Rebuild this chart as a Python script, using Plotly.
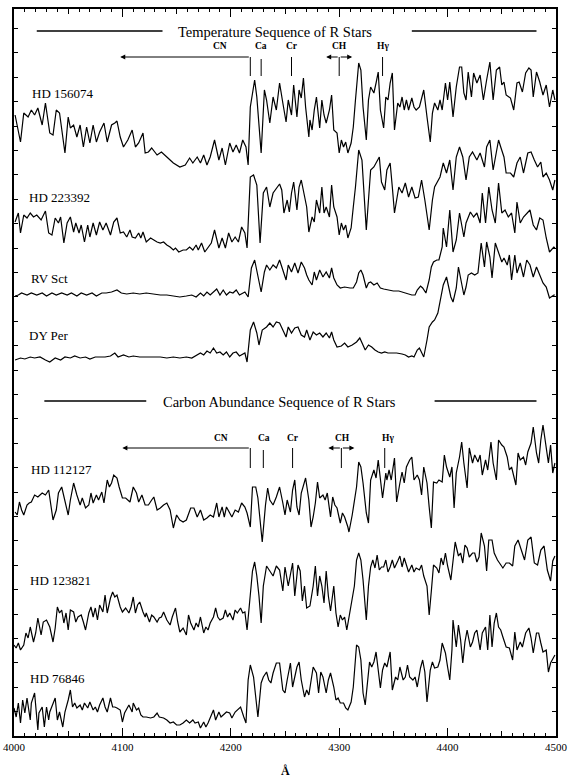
import plotly.graph_objects as go

# ---------------- data (wavelength in Angstrom, relative flux, arbitrary units with vertical offsets) -----
wl_156074 = [4001,4006,4009,4013,4016,4019,4022,4026,4029,4033,4036,4039,4042,4047,4050,4052,4055,4058,4061,4064,
             4067,4070,4073,4076,4079,4083,4086,4090,4093,4095,4098,4101,4105,4109,4112,4115,4119,4121,4124,4127,
             4132,4136,4141,4144,4147,4153,4158,4162,4165,4169,4172,4175,4178,4181,4185,4189,4192,4195,4199,4202,
             4205,4208,4211,4214,4216,4218,4222,4224,4228,4231,4233,4236,4239,4242,
             4245,4248,4251,4253,4256,4258,4261,4263,4265,4267,4269,4272,4273,4275,4277,4279,4282,4284,4286,4288,
             4291,4293,4295,4298,4300,4302,4304,4306,4308,4311,4313,4315,4318,4320,4322,4325,4327,4329,4332,4334,
             4336,4338,4341,4343,4345,4347,4349,4351,4354,4356,4358,4360,4362,4364,4367,4369,4371,4374,4378,4381,
             4384,4386,4388,4391,4393,4395,4398,4400,4402,4405,4408,4411,4413,4415,4417,4419,4422,4424,4427,4430,
             4433,4436,4439,4442,4445,4448,4450,4452,4454,4458,4461,4464,4466,4469,4472,4475,4477,4479,4482,4485,
             4488,4491,4494,4497,4499]
fx_156074 = [621,594,623,619,626,621,628,611,633,603,601,626,623,583,619,608,611,599,611,589,
             609,593,611,594,604,613,594,611,613,615,599,589,596,606,589,593,603,583,584,588,
             581,584,579,576,573,569,571,578,573,579,573,581,571,579,596,576,588,571,593,584,
             591,583,596,589,571,629,656,639,583,646,636,613,639,626,
             653,633,614,636,621,651,619,646,638,658,629,599,616,606,626,639,608,636,621,613,
             626,641,606,603,583,596,589,594,583,593,609,636,673,666,629,596,636,649,643,653,
             664,626,608,639,636,653,663,606,633,629,639,626,636,626,638,629,626,629,646,619,
             594,623,633,626,636,626,653,636,654,619,649,669,669,643,636,664,639,663,653,661,
             636,656,674,636,666,669,651,654,641,638,626,653,654,644,663,668,666,639,664,654,
             641,651,629,646,636]

wl_223392 = [4001,4004,4006,4009,4012,4015,4018,4021,4025,4029,4032,4035,4038,4041,4043,4046,4049,4052,4055,4057,
             4060,4062,4065,4068,4070,4073,4076,4079,4082,4085,4089,4092,4095,4098,4101,4104,4107,4109,4112,4115,
             4117,4119,4122,4126,4129,4132,4135,4138,4141,4144,4147,4149,4152,4156,4159,4162,4165,4168,4170,4173,
             4176,4179,4182,4185,4189,4192,4195,4198,4201,4204,4207,4210,4213,4215,4218,4221,4224,4227,4230,4233,
             4236,4239,4242,4245,4247,4249,4252,4254,4256,4258,4261,4263,4265,4268,4270,4272,4275,4277,4279,4282,
             4284,4286,4288,4291,4293,4295,4298,4300,4302,4304,4306,4308,4311,4313,4315,4318,4321,4325,4327,4329,
             4332,4335,4337,4339,4342,4344,4347,4349,4351,4355,4358,4361,4364,4367,4370,4373,4376,4379,4383,4386,
             4388,4393,4396,4399,4402,4405,4408,4411,4414,4417,4420,4423,4427,4430,4434,4436,4439,4442,4447,4449,
             4452,4454,4458,4461,4464,4467,4470,4474,4477,4480,4483,4486,4488,4491,4494,4497,4499]
fx_223392 = [514,523,503,521,518,523,519,521,516,525,503,501,518,513,519,493,513,519,504,513,
             503,511,494,511,499,513,501,514,506,513,501,514,518,503,504,499,506,499,498,503,
             498,504,494,498,496,494,493,494,491,489,486,488,484,486,486,489,486,491,486,493,
             484,488,493,506,488,498,488,503,494,499,494,509,503,488,559,561,551,493,543,549,
             529,543,548,552,546,523,536,524,543,554,526,549,556,539,529,504,519,514,536,523,
             549,523,529,519,551,529,519,501,513,506,511,498,508,529,549,586,576,506,536,566,
             569,576,579,554,546,566,573,549,523,549,543,553,539,549,538,539,556,536,506,536,
             549,559,573,563,576,546,579,589,579,556,579,584,576,583,569,589,596,566,596,589,
             579,563,563,559,573,579,563,583,584,576,569,574,559,563,556,546,556]

wl_rvsct = [4001,4004,4007,4012,4016,4021,4026,4030,4035,4039,4044,4049,4053,4058,4062,4067,4072,4076,4081,4085,
            4090,4095,4099,4104,4110,4116,4122,4129,4135,4141,4147,4153,4159,4164,4168,4172,4175,4178,4181,4184,
            4187,4190,4193,4196,4199,4202,4205,4208,4213,4216,4219,4222,4225,4228,4231,4233,4236,4239,4242,
            4245,4248,4251,4253,4256,4259,4262,4265,4268,4270,4272,4275,4277,4279,4282,4285,4288,4291,4293,4295,
            4298,4301,4305,4310,4313,4316,4318,4320,4322,4325,4327,4329,4332,4335,4338,4341,4345,4350,4355,4358,
            4361,4364,4367,4370,4372,4375,4377,4380,4383,4385,4387,4390,4392,4395,4396,4399,4402,4405,4408,4411,
            4415,4417,4421,4424,4427,4430,4432,4435,4438,4441,4444,4447,4450,4453,4456,4459,4462,4464,4467,4470,
            4473,4476,4479,4482,4485,4488,4491,4494,4498,4499]
fx_rvsct = [440,441,443,441,443,441,443,440,443,441,443,441,443,440,443,441,443,440,443,443,
            444,446,443,442,443,442,443,442,441,441,440,439,440,441,439,443,440,444,441,444,
            447,441,446,441,444,443,446,441,444,439,468,476,459,444,464,471,466,471,468,
            476,466,456,471,464,473,463,474,468,461,456,451,464,456,466,459,464,458,468,458,
            451,448,449,448,448,454,463,466,461,448,453,454,451,453,448,447,446,445,445,444,
            443,442,441,441,446,450,448,443,456,469,474,476,476,489,508,489,526,484,496,523,
            499,513,524,519,523,513,543,513,549,526,513,553,523,526,519,523,503,534,513,519,
            523,526,511,506,518,516,498,484,489,488]

wl_dyper = [4001,4006,4010,4015,4019,4024,4029,4033,4038,4043,4047,4052,4056,4061,4066,4070,4075,4079,4084,4089,
            4093,4096,4101,4106,4110,4116,4122,4129,4135,4141,4147,4153,4159,4164,4169,4172,4175,4178,4181,4184,
            4187,4190,4193,4196,4199,4202,4205,4208,4213,4215,4218,4221,4224,4226,4229,4233,4236,4239,4242,
            4245,4248,4251,4253,4256,4259,4262,4265,4268,4270,4273,4276,4279,4282,4285,4288,4291,4293,4295,4298,
            4302,4305,4308,4312,4316,4319,4321,4324,4327,4330,4333,4336,4339,4342,4345,4348,4353,4358,4361,4364,
            4367,4369,4372,4374,4376,4378,4381,4383,4386,4388,4391,4393,4396,4399,4401,4403,4405,4408,4410,4412,
            4415,4417,4419,4422,4425,4428,4431,4434,4436,4439,4441,4444,4447,4450,4452,4455,4457,4459,4462,4464,
            4467,4470,4473,4476,4479,4482,4485,4488,4491,4494,4498,4499]
fx_dyper = [376,378,377,379,378,379,376,374,378,376,379,378,380,378,379,377,379,379,379,380,
            383,379,381,379,380,379,379,379,379,378,379,378,379,378,381,383,381,385,383,388,
            383,384,381,384,379,383,384,380,383,374,406,414,403,391,406,409,413,409,414,
            413,406,399,409,403,408,409,401,399,406,396,404,401,403,399,403,398,404,396,389,
            390,393,389,391,394,398,393,386,391,389,386,384,383,384,383,383,383,382,381,379,
            380,379,386,388,384,379,396,409,414,416,423,436,451,459,449,439,434,448,469,459,
            441,449,461,463,461,463,493,469,494,479,458,493,484,474,478,471,481,456,481,463,
            473,459,476,471,459,469,461,453,449,438,441,441]

wl_112127 = [4001,4003,4005,4007,4009,4012,4014,4016,4019,4022,4026,4029,4032,4034,4036,4039,4041,4044,4047,4050,
             4052,4055,4058,4061,4063,4066,4069,4071,4073,4076,4078,4081,4083,4086,4088,4090,4092,4095,4097,4100,
             4103,4107,4110,4113,4115,4118,4121,4124,4127,4129,4132,4135,4138,4141,4144,4147,4150,4153,4156,4159,
             4163,4166,4169,4172,4175,4178,4181,4184,4187,4189,4192,4194,4196,4199,4201,4204,4207,4210,4213,4215,
             4218,4220,4223,4225,4227,4229,4232,4234,4236,4239,4242,
             4245,4248,4250,4252,4255,4257,4259,4261,4263,4265,4268,4269,4272,4274,4276,4278,4280,4282,4285,4287,
             4289,4292,4294,4296,4298,4301,4303,4305,4308,4309,4312,4314,4316,4318,4320,4322,4325,4327,4329,4332,
             4334,4336,4338,4340,4343,4344,4346,4348,4351,4353,4356,4358,4360,4362,4365,4367,4369,4372,4374,4376,
             4378,4381,4383,4385,4387,4390,4392,4395,4397,4399,4402,4404,4406,4408,4411,4413,4415,4418,4420,4423,
             4425,4428,4430,4432,4435,4437,4440,4442,4445,4447,4450,4452,4455,4457,4459,4461,4463,4465,4467,4470,
             4472,4474,4477,4479,4482,4484,4486,4488,4491,4493,4495,4497,4499]
fx_112127 = [224,221,234,226,221,231,233,234,241,239,243,241,246,231,216,226,243,249,236,221,
             236,253,241,231,238,228,231,243,233,241,236,244,233,256,249,253,261,258,249,238,
             238,234,249,243,234,241,231,231,236,239,226,228,231,233,226,208,221,216,214,216,
             228,228,219,226,216,218,221,219,233,219,229,219,229,223,219,226,224,233,229,223,
             209,249,249,238,216,194,231,248,236,231,239,
             249,233,221,236,224,246,256,229,221,243,256,258,236,209,219,233,254,238,241,236,
             243,219,239,231,228,213,223,219,209,204,221,233,249,274,269,253,223,213,256,266,
             258,276,256,238,263,256,266,256,278,234,253,264,253,269,276,279,256,261,256,241,
             269,253,229,208,254,253,256,254,281,269,259,269,228,263,279,294,273,248,288,273,
             281,274,281,261,276,266,294,273,256,296,291,289,279,266,269,259,251,283,276,279,
             271,284,293,309,283,273,296,311,286,273,291,263,273]

wl_123821 = [4000,4002,4004,4006,4009,4011,4013,4015,4018,4020,4022,4025,4027,4030,4033,4036,4038,4040,4042,4044,
             4046,4048,4050,4052,4055,4057,4059,4062,4064,4066,4069,4071,4073,4075,4077,4079,4082,4084,4086,4089,
             4091,4093,4095,4098,4100,4103,4106,4108,4110,4112,4114,4116,4119,4121,4122,4125,4127,4129,4132,4134,
             4136,4138,4141,4144,4146,4149,4151,4153,4156,4159,4161,4163,4166,4168,4170,4172,4175,4177,4179,4181,
             4184,4186,4188,4190,4193,4195,4197,4199,4202,4204,4206,4209,4211,4213,4215,4218,4220,4222,4224,4226,
             4228,4230,4233,4236,4239,4242,
             4245,4248,4250,4253,4255,4257,4259,4262,4264,4266,4268,4270,4273,4276,4278,4280,4282,4284,4286,4288,
             4290,4292,4295,4297,4299,4301,4303,4305,4307,4309,4312,4314,4316,4318,4320,4322,4325,4327,4329,4331,
             4333,4335,4337,4339,4341,4343,4345,4347,4349,4351,4354,4356,4358,4360,4362,4364,4367,4369,4371,4374,
             4376,4378,4381,4383,4385,4387,4390,4392,4394,4396,4398,4400,4403,4405,4407,4410,4412,4414,4416,4418,
             4420,4423,4425,4427,4429,4431,4434,4436,4438,4441,4443,4446,4448,4451,4454,4457,4460,4462,4465,4468,
             4471,4474,4477,4480,4483,4486,4489,4492,4495,4497,4499]
fx_123821 = [91,88,93,86,91,103,98,109,94,103,118,101,114,116,109,94,108,129,123,126,
             113,123,106,126,124,114,119,121,114,106,123,129,119,128,116,131,124,141,123,138,
             144,139,141,129,124,128,123,129,139,123,131,134,124,119,123,114,121,119,114,118,
             119,124,116,111,119,128,114,104,108,101,121,113,106,113,109,119,103,109,106,113,
             119,128,119,116,118,126,119,123,116,126,123,128,123,124,106,143,165,174,160,140,
             113,150,170,165,160,170,
             166,145,169,150,163,173,140,171,165,135,150,128,130,150,170,140,160,150,133,165,
             140,125,150,123,109,121,116,119,106,119,135,150,176,183,176,156,116,150,169,176,
             168,181,166,169,169,176,164,169,176,168,175,180,169,178,171,164,171,164,168,166,
             171,160,150,121,145,171,168,163,178,171,183,170,156,174,194,180,183,173,191,188,
             179,183,183,174,179,203,190,165,196,196,183,176,173,168,173,173,170,190,196,186,
             176,196,199,173,171,186,190,166,155,175,180]

wl_76846 = [4000,4002,4004,4006,4008,4010,4012,4015,4016,4019,4022,4023,4026,4028,4030,4032,4033,4036,4038,4040,
            4042,4045,4047,4050,4052,4054,4056,4058,4061,4063,4065,4068,4070,4073,4075,4077,4079,4082,4084,4086,
            4089,4091,4093,4095,4098,4100,4102,4105,4106,4109,4110,4113,4115,4117,4119,4122,4126,4129,4132,4134,
            4138,4141,4144,4147,4150,4153,4156,4159,4162,4165,4167,4170,4172,4175,4177,4179,4181,4184,4186,4189,
            4191,4193,4196,4199,4201,4204,4206,4209,4212,4214,4216,4218,4221,4223,4225,4228,4230,4233,4235,4237,
            4239,4242,
            4245,4248,4250,4252,4255,4257,4259,4261,4263,4265,4268,4270,4272,4275,4276,4279,4281,4283,4285,4288,
            4290,4292,4295,4297,4299,4301,4304,4306,4308,4311,4313,4316,4318,4320,4322,4324,4326,4328,4330,4332,
            4334,4336,4338,4340,4342,4344,4347,4349,4352,4354,4356,4359,4361,4363,4365,4368,4370,4372,4375,4377,
            4379,4381,4384,4386,4388,4391,4393,4395,4398,4400,4402,4404,4405,4408,4410,4412,4414,4416,4418,4421,
            4423,4425,4427,4430,4432,4435,4437,4439,4441,4443,4445,4447,4449,4451,4454,4457,4460,4462,4464,4467,
            4469,4472,4475,4477,4479,4482,4484,4486,4488,4491,4493,4495,4498,4499]
fx_76846 = [28,19,33,13,36,23,38,16,33,43,6,23,29,9,29,16,24,33,38,16,
            24,9,24,36,46,29,33,28,31,26,33,28,34,26,29,24,31,38,29,24,
            38,29,29,28,26,14,23,29,31,24,33,26,28,21,19,19,18,19,23,19,
            18,16,13,14,11,11,13,16,13,16,13,14,8,14,9,13,19,26,16,24,
            19,21,24,23,18,24,26,29,19,13,56,71,59,36,19,53,59,64,56,53,
            63,73,
            73,46,43,56,73,49,59,69,74,56,39,46,41,59,69,63,43,64,59,43,
            56,63,49,36,38,33,33,28,26,34,49,91,89,76,43,31,53,74,69,74,
            84,66,48,66,73,69,84,46,59,56,69,56,59,71,59,56,59,49,68,76,
            64,34,66,74,68,69,76,93,83,69,56,86,116,89,111,96,73,94,106,89,
            94,103,106,86,103,109,86,121,89,113,123,109,106,99,89,88,76,104,86,94,
            89,103,108,98,83,103,103,93,84,86,64,73,79,81]

stars = ["HD 156074", "HD 223392", "RV Sct", "DY Per", "HD 112127", "HD 123821", "HD 76846"]
star_wl = [wl_156074, wl_223392, wl_rvsct, wl_dyper, wl_112127, wl_123821, wl_76846]
star_fx = [fx_156074, fx_223392, fx_rvsct, fx_dyper, fx_112127, fx_123821, fx_76846]
label_wl = [4015, 4012, 4014, 4012, 4014, 4013, 4013]
label_fx = [643, 539, 458, 401, 267, 156, 58]

section_titles = ["Temperature Sequence of R Stars", "Carbon Abundance Sequence of R Stars"]
title_wl = [4241, 4245]
title_fx = [704, 334]
title_rules = [[(4021, 4137), (4367, 4482)], [(4028, 4122), (4388, 4482)]]

feature_names = ["CN", "Ca", "Cr", "CH", "H\u03b3"]
feature_wl_top = [4190, 4228, 4256, 4300, 4340]
feature_wl_bot = [4191, 4231, 4257, 4303, 4345]
tick_wl_top = [4218, 4228, 4256, 4300, 4340]
tick_wl_bot = [4218, 4230, 4257, 4302, 4342]
CN_arrow_end = [4098, 4100]
CH_arrow_half = 12

FONT = "Liberation Serif, Times New Roman, serif"

fig = go.Figure()
for wl, fx in zip(star_wl, star_fx):
    fig.add_trace(go.Scatter(x=wl, y=fx, mode="lines", line=dict(color="black", width=1.2),
                             showlegend=False, hoverinfo="skip"))
# helper trace for the 50-A tick axis
fig.add_trace(go.Scatter(x=[4000, 4500], y=[0, 0], xaxis="x2", mode="lines",
                         line=dict(width=0, color="rgba(0,0,0,0)"), showlegend=False, hoverinfo="skip"))

shapes = []
annotations = []
for name, lw, lf in zip(stars, label_wl, label_fx):
    annotations.append(dict(x=lw, y=lf, xref="x", yref="y", text=name, showarrow=False,
                            xanchor="left", yanchor="middle", font=dict(family=FONT, size=13, color="black")))

for k in range(2):
    annotations.append(dict(x=title_wl[k], y=title_fx[k], xref="x", yref="y", text=section_titles[k],
                            showarrow=False, xanchor="center", yanchor="middle",
                            font=dict(family=FONT, size=14.5, color="black")))
    for (a, b) in title_rules[k]:
        shapes.append(dict(type="line", xref="x", yref="y", x0=a, x1=b, y0=title_fx[k] + 1, y1=title_fx[k] + 1,
                           line=dict(color="black", width=1.3)))

for k, (fwl, twl, lab_y, top_y, bot_y) in enumerate([
        (feature_wl_top, tick_wl_top, 690, 679, 660),
        (feature_wl_bot, tick_wl_bot, 298, 288, 268)]):
    for i, nm in enumerate(feature_names):
        annotations.append(dict(x=fwl[i], y=lab_y, xref="x", yref="y", text="<b>%s</b>" % nm, showarrow=False,
                                xanchor="center", yanchor="middle", font=dict(family=FONT, size=9.5, color="black")))
        y0 = top_y - (2 if nm == "Ca" else 0)
        shapes.append(dict(type="line", xref="x", yref="y", x0=twl[i], x1=twl[i], y0=y0, y1=bot_y,
                           line=dict(color="black", width=1)))
    # CN arrow pointing to shorter wavelengths
    annotations.append(dict(x=CN_arrow_end[k], y=top_y, ax=twl[0], ay=top_y, xref="x", yref="y",
                            axref="x", ayref="y", text="", showarrow=True, arrowhead=2, arrowsize=1,
                            arrowwidth=1, arrowcolor="black"))
    # CH double arrow
    for sgn in (-1, 1):
        annotations.append(dict(x=twl[3] + sgn * CH_arrow_half, y=top_y, ax=twl[3], ay=top_y, xref="x", yref="y",
                                axref="x", ayref="y", text="", showarrow=True, arrowhead=2, arrowsize=1,
                                arrowwidth=1, arrowcolor="black"))

annotations.append(dict(x=0.5, y=-0.048, xref="paper", yref="paper", text="<b>\u00c5</b>", showarrow=False,
                        xanchor="center", yanchor="middle", font=dict(family=FONT, size=12, color="black")))

fig.update_layout(
    width=570, height=779,
    margin=dict(l=14, r=14, t=9, b=43),
    paper_bgcolor="white", plot_bgcolor="white",
    shapes=shapes, annotations=annotations,
    xaxis=dict(range=[4000, 4500], tick0=4000, dtick=100, ticks="inside", ticklen=8, tickwidth=1,
               tickcolor="black", showline=True, linecolor="black", linewidth=1.5, mirror="ticks",
               showgrid=False, zeroline=False, automargin=False,
               minor=dict(dtick=10, ticks="inside", ticklen=3, tickwidth=1, tickcolor="black", showgrid=False),
               tickfont=dict(family=FONT, size=11, color="black")),
    xaxis2=dict(overlaying="x", matches="x", range=[4000, 4500], tick0=4000, dtick=50, ticks="inside",
                ticklen=5, tickwidth=1, tickcolor="black", showticklabels=False, showline=False,
                mirror="ticks", showgrid=False, zeroline=False, automargin=False),
    yaxis=dict(range=[0, 727], tick0=0, dtick=24.4, ticks="inside", ticklen=4, tickwidth=1, tickcolor="black",
               showticklabels=False, showline=True, linecolor="black", linewidth=1.5, mirror="ticks",
               showgrid=False, zeroline=False, automargin=False),
)

fig.write_html("out.html", config={"responsive": False, "displayModeBar": False},
               post_script="document.body.style.margin='0';document.body.style.overflow='hidden';")
